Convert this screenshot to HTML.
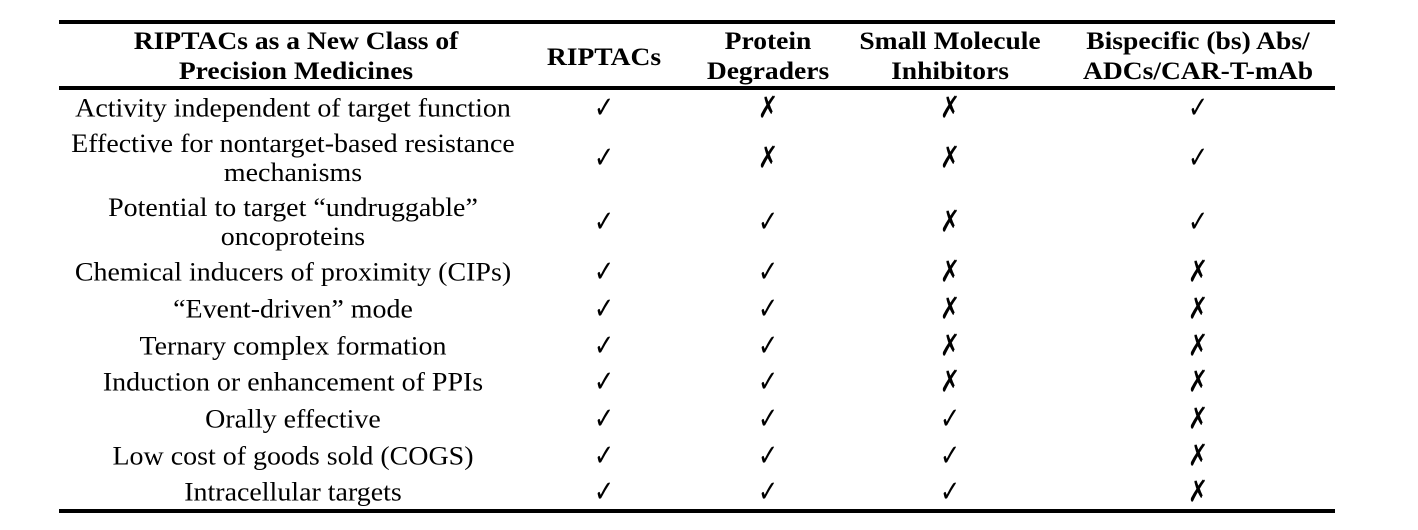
<!DOCTYPE html>
<html><head><meta charset="utf-8"><style>
body{margin:0;width:1418px;height:530px;background:#fff;position:relative;overflow:hidden;font-family:"Liberation Serif","DejaVu Serif",serif;color:#000}
.l{position:absolute;left:59px;width:1276px;height:4px;background:#000}
.t{position:absolute;transform:translate(-50%,-50%) scaleX(1.075);text-align:center;white-space:nowrap;font-size:26px;line-height:29px}
.h{font-weight:bold;font-size:25.5px;line-height:30px;transform:translate(-50%,-50%) scaleX(1.08)}
.m{font-family:"DejaVu Sans",sans-serif;font-size:30px;font-weight:normal;transform:translate(-50%,-50%) scaleX(0.8)}
</style></head><body>
<div class="l" style="top:20px"></div>
<div class="l" style="top:86px"></div>
<div class="l" style="top:509px"></div>
<div class="t h" style="left:296px;top:56px">RIPTACs as a New Class of<br>Precision Medicines</div>
<div class="t h" style="left:604px;top:57px">RIPTACs</div>
<div class="t h" style="left:768px;top:56px">Protein<br>Degraders</div>
<div class="t h" style="left:950px;top:56px">Small Molecule<br>Inhibitors</div>
<div class="t h" style="left:1198px;top:56px">Bispecific (bs) Abs/<br>ADCs/CAR-T-mAb</div>
<div id="rows"></div>
<script>
var R=[["Activity independent of target function",108,"✓✗✗✓"],
["Effective for nontarget-based resistance<br>mechanisms",158,"✓✗✗✓"],
["Potential to target “undruggable”<br>oncoproteins",222,"✓✓✗✓"],
["Chemical inducers of proximity (CIPs)",272,"✓✓✗✗"],
["“Event-driven” mode",309,"✓✓✗✗"],
["Ternary complex formation",346,"✓✓✗✗"],
["Induction or enhancement of PPIs",382,"✓✓✗✗"],
["Orally effective",419,"✓✓✓✗"],
["Low cost of goods sold (COGS)",456,"✓✓✓✗"],
["Intracellular targets",492,"✓✓✓✗"]];
var X=[604,768,950,1198],h="";
R.forEach(function(r){h+='<div class="t" style="left:293px;top:'+r[1]+'px">'+r[0]+'</div>';
for(var i=0;i<4;i++)h+='<div class="t m" style="left:'+X[i]+'px;top:'+r[1]+'px">'+r[2][i]+'</div>';});
document.getElementById('rows').innerHTML=h;
</script>
</body></html>
